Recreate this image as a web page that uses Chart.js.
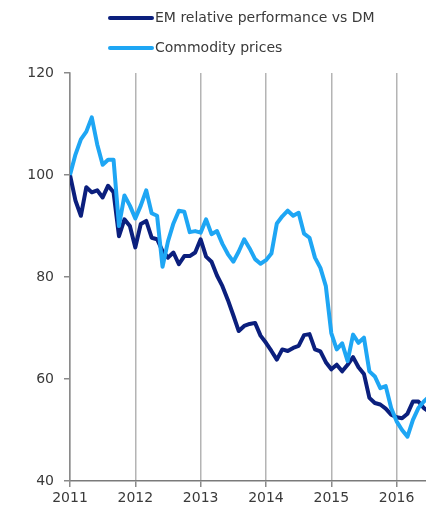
<!DOCTYPE html>
<html>
<head>
<meta charset="utf-8">
<script src="https://cdn.jsdelivr.net/npm/chart.js@4/dist/chart.umd.min.js"></script>
<style>
  html, body { margin: 0; padding: 0; background: #fff; }
  #wrap { width: 426px; height: 508px; position: relative; }
</style>
</head>
<body>
<div id="wrap"><canvas id="chart"></canvas></div>
<script>
"use strict";

// monthly series, indexed to 100 in Jan 2011
const START_YEAR = 2011;
const SERIES_NAMES = ['EM relative performance vs DM', 'Commodity prices'];
const EM_VS_DM = [
    100, 95, 92, 97.6, 96.6, 97, 95.6, 97.9, 96.6, 88, 91.3, 90,
    85.8, 90.4, 91, 87.7, 87.4, 85.1, 83.8, 84.8, 82.5, 84.1, 84.1, 84.8,
    87.4, 84, 83, 80.3, 78.2, 75.5, 72.5, 69.4, 70.4, 70.8, 71, 68.5,
    67.1, 65.5, 63.8, 65.8, 65.5, 66.1, 66.5, 68.6, 68.8, 65.8, 65.4, 63.3,
    61.9, 62.8, 61.5, 62.8, 64.3, 62.3, 61, 56.3, 55.3, 55, 54.2, 53,
    52.5, 52.3, 53.2, 55.6, 55.6, 54.3, 53.6];
const COMMODITIES = [
    100, 104, 107, 108.5, 111.3, 106, 102, 103, 103, 90, 96, 94,
    91.5, 94, 97, 92.5, 92, 82, 87, 90.5, 93, 92.8, 88.8, 89,
    88.7, 91.3, 88.4, 89, 86.5, 84.5, 83, 85, 87.4, 85.6, 83.5, 82.6,
    83.3, 84.6, 90.5, 91.9, 93, 92, 92.6, 88.5, 87.7, 83.8, 81.8, 78.2,
    69, 65.8, 67, 63.5, 68.7, 67.1, 68.1, 61.5, 60.5, 58.2, 58.6, 54.3,
    51.7, 50, 48.7, 52, 54.3, 55.6, 56.6];
const X_TICKS = [2011, 2012, 2013, 2014, 2015, 2016];
const Y_TICKS = [40, 60, 80, 100, 120];

const COLORS = ['#0b1f7d', '#1ea6f4'];
const TEXT = '#3a3a3a';
const FONT = {family: '"DejaVu Sans", Verdana, sans-serif', size: 14};

function toPoints(values) {
    return values.map((v, i) => ({x: START_YEAR + i / 12, y: v}));
}

// legend drawn as two left-aligned rows like the original
const sideLegend = {
    id: 'sideLegend',
    afterDraw(chart) {
        const ctx = chart.ctx;
        ctx.save();
        ctx.font = FONT.size + 'px ' + FONT.family;
        ctx.textBaseline = 'middle';
        chart.data.datasets.forEach((ds, i) => {
            let y = 18 + i * 30;
            ctx.strokeStyle = ds.borderColor;
            ctx.lineWidth = 4;
            ctx.lineCap = 'round';
            ctx.beginPath();
            ctx.moveTo(110, y);
            ctx.lineTo(152, y);
            ctx.stroke();
            ctx.fillStyle = TEXT;
            ctx.fillText(ds.label, 155, y);
        });
        ctx.restore();
    }
};

const datasets = [EM_VS_DM, COMMODITIES].map((vals, i) => ({
    label: SERIES_NAMES[i],
    data: toPoints(vals),
    borderColor: COLORS[i],
    backgroundColor: COLORS[i],
    borderWidth: 4,
    borderJoinStyle: 'round',
    pointRadius: 0,
    tension: 0,
    order: i == 0 ? 1 : 0,
}));

new Chart(document.getElementById('chart'), {
    type: 'line',
    data: {datasets: datasets},
    plugins: [sideLegend],
    options: {
        responsive: true,
        maintainAspectRatio: false,
        animation: false,
        layout: {padding: {top: 73, right: 0, left: 0, bottom: 0}},
        plugins: {legend: {display: false}, tooltip: {enabled: false}},
        scales: {
            x: {
                type: 'linear',
                min: 2011,
                max: 2016.45,
                afterBuildTicks: s => { s.ticks = X_TICKS.map(v => ({value: v})); },
                afterFit: s => { s.height = 27; },
                grid: {color: '#b4b4b4', lineWidth: 1.5, tickLength: 6, tickColor: '#8a8a8a'},
                border: {color: '#7a7a7a', width: 1.5},
                ticks: {color: TEXT, font: FONT, padding: 3, maxRotation: 0,
                        callback: v => String(v)}
            },
            y: {
                min: 40,
                max: 120,
                afterBuildTicks: s => { s.ticks = Y_TICKS.map(v => ({value: v})); },
                afterFit: s => { s.width = 70; },
                grid: {drawOnChartArea: false, tickLength: 6, tickColor: '#8a8a8a', lineWidth: 1.5},
                border: {color: '#8a8a8a', width: 1.5},
                ticks: {color: TEXT, font: FONT, padding: 10}
            }
        }
    }
});
</script>
</body>
</html>
